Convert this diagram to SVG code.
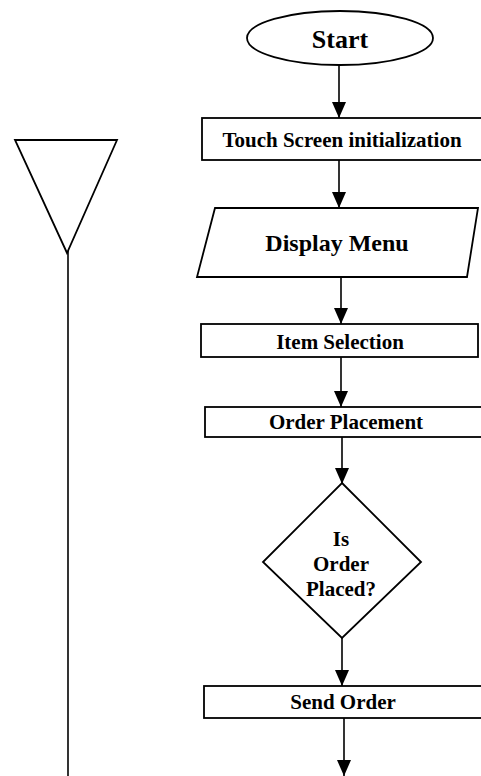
<svg xmlns="http://www.w3.org/2000/svg" width="481" height="776" viewBox="0 0 481 776">
<style>
.s{fill:#fff;stroke:#000;stroke-width:1.8}
.t{font-family:"Liberation Serif","Times New Roman",serif;font-weight:bold;font-size:21px;text-anchor:middle;fill:#000}
.c{stroke:#000;stroke-width:1.6;fill:none}
</style>
<defs>
<marker id="ah" markerUnits="userSpaceOnUse" viewBox="0 0 16 14" refX="16" refY="7" markerWidth="16" markerHeight="14" orient="auto">
<path d="M0,0 L16,7 L0,14 z" fill="#000"/>
</marker>
</defs>
<g id="connectors">
<line class="c" x1="339" y1="65" x2="339" y2="118" marker-end="url(#ah)"/>
<line class="c" x1="339" y1="160" x2="339" y2="208" marker-end="url(#ah)"/>
<line class="c" x1="341" y1="277" x2="341" y2="324" marker-end="url(#ah)"/>
<line class="c" x1="341" y1="357" x2="341" y2="407" marker-end="url(#ah)"/>
<line class="c" x1="342" y1="437" x2="342" y2="484" marker-end="url(#ah)"/>
<line class="c" x1="342" y1="638" x2="342" y2="686" marker-end="url(#ah)"/>
<line class="c" x1="344" y1="718" x2="344" y2="776" marker-end="url(#ah)"/>
<line class="c" x1="68" y1="250" x2="68" y2="776"/>
</g>
<g id="funnel">
<polygon class="s" points="15,140 117,140 67,253"/>
</g>
<g id="start">
<ellipse class="s" cx="340" cy="38" rx="93" ry="27"/>
<text class="t" x="340" y="48" style="font-size:26px">Start</text>
</g>
<g id="init">
<rect class="s" x="202" y="118" width="284" height="42"/>
<text class="t" x="342" y="147">Touch Screen initialization</text>
</g>
<g id="display">
<polygon class="s" points="215,208 478,208 467,277 197,277"/>
<text class="t" x="337" y="251" style="font-size:24px">Display Menu</text>
</g>
<g id="item">
<rect class="s" x="201" y="324" width="277" height="33"/>
<text class="t" x="340" y="349">Item Selection</text>
</g>
<g id="order">
<rect class="s" x="205" y="407" width="281" height="30"/>
<text class="t" x="346" y="429">Order Placement</text>
</g>
<g id="decision">
<polygon class="s" points="342,483 421,562 342,638 263,562"/>
<text class="t" x="341" y="546">Is</text>
<text class="t" x="341" y="571">Order</text>
<text class="t" x="341" y="596">Placed?</text>
</g>
<g id="send">
<rect class="s" x="204" y="686" width="282" height="32"/>
<text class="t" x="343" y="709">Send Order</text>
</g>
</svg>
